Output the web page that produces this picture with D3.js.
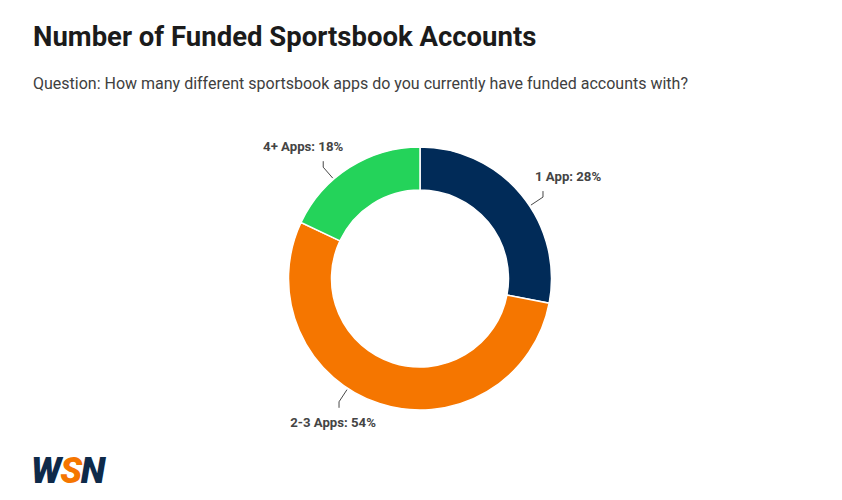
<!DOCTYPE html>
<html>
<head>
<meta charset="utf-8">
<script src="https://cdn.jsdelivr.net/npm/d3@7"></script>
<style>
  html, body { margin: 0; padding: 0; background: #fff; }
  svg { display: block; font-family: Roboto, "Noto Sans", sans-serif; }
</style>
</head>
<body>
<svg id="chart" width="842" height="500"></svg>
<script>
// ---- data ----
const categories = ["1 App", "2-3 Apps", "4+ Apps"];
const values = [28, 54, 18];
const colors = ["#012b58", "#f57600", "#24d35a"];
const titleText = "Number of Funded Sportsbook Accounts";
const subtitleText = "Question: How many different sportsbook apps do you currently have funded accounts with?";

// label layout (angles in degrees clockwise from top, text offset from leader end)
const labelLayout = [
  { angle: 56.5, dx: -8, dy: -10, anchor: "start", dir: -1 },
  { angle: 213.3, dx: -6, dy: 19, anchor: "middle", dir: 1 },
  { angle: 319, dx: 20, dy: -10, anchor: "end", dir: -1 }
];

const svg = d3.select("#chart");
const cx = 420, cy = 278.5, outerR = 131.5, innerR = 88.5;

svg.append("text")
  .attr("x", 33).attr("y", 46)
  .attr("font-size", 27.5).attr("font-weight", 700)
  .attr("fill", "#1b1b1b")
  .text(titleText);

svg.append("text")
  .attr("x", 33).attr("y", 89)
  .attr("font-size", 16)
  .attr("fill", "#404040")
  .text(subtitleText);

const pie = d3.pie().sort(null).value(d => d.v);
const arcs = pie(categories.map((c, i) => ({ c, v: values[i], col: colors[i] })));
const arc = d3.arc().innerRadius(innerR).outerRadius(outerR);

const g = svg.append("g").attr("transform", `translate(${cx},${cy})`);
g.selectAll("path.slice").data(arcs).enter().append("path")
  .attr("class", "slice")
  .attr("d", arc)
  .attr("fill", d => d.data.col)
  .attr("stroke", "#fff")
  .attr("stroke-width", 1.5);

// labels + leader lines
arcs.forEach((d, i) => {
  const L = labelLayout[i];
  const a = L.angle * Math.PI / 180;
  const p0 = [Math.sin(a) * (outerR + 1.5), -Math.cos(a) * (outerR + 1.5)];
  const p1 = [Math.sin(a) * (outerR + 16), -Math.cos(a) * (outerR + 16)];
  const p2 = [p1[0], p1[1] + L.dir * 6];
  g.append("path")
    .attr("d", d3.line()([p0, p1, p2]))
    .attr("fill", "none")
    .attr("stroke", "#333")
    .attr("stroke-width", 0.9);
  g.append("text")
    .attr("x", p2[0] + L.dx)
    .attr("y", p2[1] + L.dy)
    .attr("text-anchor", L.anchor)
    .attr("font-size", 13.2)
    .attr("font-weight", 700)
    .attr("fill", "#444")
    .text(`${d.data.c}: ${d.data.v}%`);
});

// logo
const logo = svg.append("text")
  .attr("x", 31).attr("y", 483)
  .attr("font-size", 36)
  .attr("font-weight", 900)
  .attr("font-style", "italic")
  .attr("letter-spacing", -1.2);
logo.append("tspan").attr("fill", "#0e2a4a").text("W");
logo.append("tspan").attr("fill", "#f57600").text("S");
logo.append("tspan").attr("fill", "#0e2a4a").text("N");
</script>
</body>
</html>
